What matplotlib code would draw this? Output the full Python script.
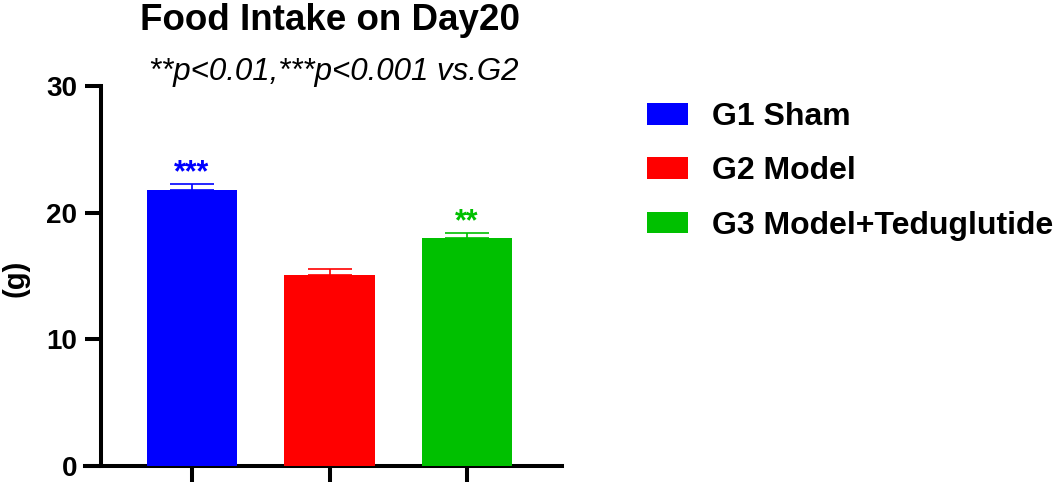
import matplotlib.pyplot as plt

groups = ['G1 Sham', 'G2 Model', 'G3 Model+Teduglutide']
means = [21.8, 15.1, 18.0]
sems = [0.5, 0.45, 0.42]
stars = ['***', '', '**']
colors = ['#0000FF', '#FF0000', '#00C000']
yticks = [0, 10, 20, 30]


def main():
    plt.rcParams['font.family'] = ['Liberation Sans', 'DejaVu Sans']

    fig = plt.figure(figsize=(10.6, 4.94), dpi=100)
    ax = fig.add_axes([85 / 1060, 1 - 466 / 494, 477 / 1060, 380 / 494])

    x = list(range(len(groups)))
    bars = ax.bar(x, means, width=0.66, color=colors, label=groups, zorder=3)
    for xi, m, s, c in zip(x, means, sems, colors):
        ax.errorbar(xi, m, yerr=[[0], [s]], color=c, capsize=16,
                    capthick=1.2, elinewidth=1.2, zorder=2)

    # significance marks above the error bars
    for xi, m, s, st, c in zip(x, means, sems, stars, colors):
        if st:
            ax.annotate(st, (xi, m + s), xytext=(0, -3.5), textcoords='offset points',
                        ha='center', va='bottom', color=c, fontsize=22,
                        fontweight='bold')

    ax.set_xlim(-0.778, 2.69)
    ax.set_ylim(0, 30)
    ax.set_yticks(yticks)
    ax.set_xticks(x)
    ax.set_xticklabels([])

    for side in ['top', 'right']:
        ax.spines[side].set_visible(False)
    ax.spines['left'].set_position(('data', -0.662))
    ax.spines['left'].set_linewidth(2.9)
    ax.spines['bottom'].set_linewidth(2.9)
    ax.tick_params(axis='both', width=2.9, length=11.5)
    ax.tick_params(axis='y', labelsize=20, pad=5.5)
    for lab in ax.get_yticklabels():
        lab.set_fontweight('bold')

    ax.set_ylabel('(g)', fontsize=21, fontweight='bold')
    ax.yaxis.set_label_coords(-0.116, 0.495)

    fig.text(330 / 1060, 1 - 30 / 494, 'Food Intake on Day20', ha='center',
             va='baseline', fontsize=26.5, fontweight='bold')
    fig.text(334 / 1060, 1 - 80 / 494, '**p<0.01,***p<0.001 vs.G2',
             ha='center', va='baseline', fontsize=22.5, fontstyle='italic')

    fig.legend(handles=bars, labels=groups, loc='upper left',
               bbox_to_anchor=(647 / 1060, 1 - 102 / 494), frameon=False,
               handlelength=1.29, handleheight=0.66,
               handletextpad=0.75, labelspacing=0.76, borderpad=0,
               borderaxespad=0, prop={'weight': 'bold', 'size': 23})

    fig.savefig('out.png', dpi=100)


if __name__ == '__main__':
    main()
